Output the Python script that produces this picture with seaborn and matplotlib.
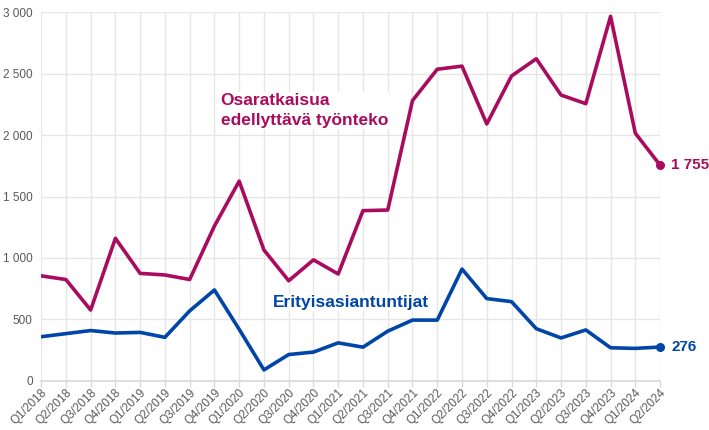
import matplotlib
matplotlib.use("Agg")
import matplotlib.pyplot as plt
import matplotlib.ticker as mticker
import seaborn as sns
import pandas as pd

quarters = ["Q1/2018", "Q2/2018", "Q3/2018", "Q4/2018",
            "Q1/2019", "Q2/2019", "Q3/2019", "Q4/2019",
            "Q1/2020", "Q2/2020", "Q3/2020", "Q4/2020",
            "Q1/2021", "Q2/2021", "Q3/2021", "Q4/2021",
            "Q1/2022", "Q2/2022", "Q3/2022", "Q4/2022",
            "Q1/2023", "Q2/2023", "Q3/2023", "Q4/2023",
            "Q1/2024", "Q2/2024"]
osaratkaisu = [855, 825, 577, 1160, 875, 862, 825, 1260, 1625, 1065, 815, 985,
               870, 1385, 1390, 2280, 2535, 2560, 2090, 2480, 2620, 2325, 2255,
               2965, 2015, 1755]
erityis = [360, 385, 410, 390, 395, 355, 570, 740, 420, 90, 215, 235,
           310, 275, 405, 495, 495, 910, 670, 645, 425, 350, 415, 270,
           265, 276]
name_a = "Osaratkaisua\nedellyttävä työnteko"
name_b = "Erityisasiantuntijat"
col_a = "#A90C5E"
col_b = "#0045A8"

sns.set_theme(style="white")
plt.rcParams['font.family'] = ['Liberation Sans', 'DejaVu Sans']

df = pd.DataFrame({"q": list(range(len(quarters))) * 2,
                   "v": osaratkaisu + erityis,
                   "s": ["a"] * len(quarters) + ["b"] * len(quarters)})

fig = plt.figure(figsize=(7.09, 4.30), dpi=100)
ax = fig.add_axes([0.058, 0.114, 0.873, 0.858])
sns.lineplot(data=df, x="q", y="v", hue="s", palette={"a": col_a, "b": col_b},
             linewidth=2.6, legend=False, ax=ax)
n = len(quarters)
ax.plot([n - 1], [osaratkaisu[-1]], "o", color=col_a, ms=5.5, clip_on=False)
ax.plot([n - 1], [erityis[-1]], "o", color=col_b, ms=5.5, clip_on=False)

def fmt(v, pos=None):
    return f"{int(v):,}".replace(",", " ")

ax.text(n - 1 + 0.45, osaratkaisu[-1], fmt(osaratkaisu[-1]), color=col_a,
        fontsize=11, fontweight="bold", va="center", ha="left")
ax.text(n - 1 + 0.45, erityis[-1], fmt(erityis[-1]), color=col_b,
        fontsize=11, fontweight="bold", va="center", ha="left")

ax.text(7.25, 2200, name_a, color=col_a, fontsize=12.5, fontweight="bold",
        va="center", ha="left", linespacing=1.35,
        bbox=dict(facecolor="white", edgecolor="none", pad=1))
ax.text(9.35, 642, name_b, color=col_b, fontsize=12.5, fontweight="bold",
        va="center", ha="left",
        bbox=dict(facecolor="white", edgecolor="none", pad=1))

ax.set_xlim(0, n - 1)
ax.set_ylim(0, 3000)
ax.set_xticks(range(n))
ax.set_xticklabels(quarters, rotation=45, ha="right", rotation_mode="anchor",
                   fontsize=8.5, color="#595959")
ax.set_yticks(range(0, 3001, 500))
ax.yaxis.set_major_formatter(mticker.FuncFormatter(fmt))
ax.tick_params(axis="y", labelsize=8.5, labelcolor="#595959", length=0, pad=6)
ax.tick_params(axis="x", length=4, color="#D9D9D9", width=1, pad=0, bottom=True)
ax.grid(True, color="#E6E6E6", linewidth=1)
ax.set_axisbelow(True)
for s in ["top", "left", "right"]:
    ax.spines[s].set_visible(False)
ax.spines["bottom"].set_color("#D9D9D9")
ax.set_xlabel("")
ax.set_ylabel("")

fig.savefig("out.png", dpi=100)
